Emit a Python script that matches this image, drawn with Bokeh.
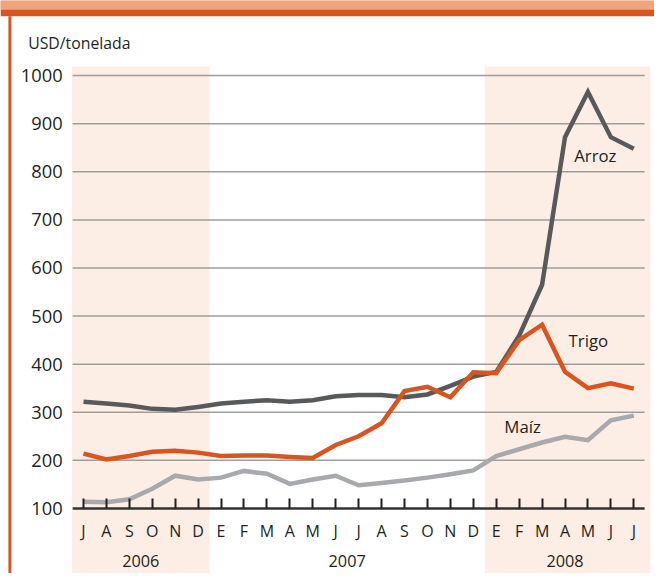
from bokeh.plotting import figure
from bokeh.models import LinearAxis, FixedTicker, Label, Range1d, BoxAnnotation
from bokeh.embed import file_html
from bokeh.resources import INLINE

# ---- data ----
months = ["J", "A", "S", "O", "N", "D",
          "E", "F", "M", "A", "M", "J", "J", "A", "S", "O", "N", "D",
          "E", "F", "M", "A", "M", "J", "J"]
years = ["2006", "2007", "2008"]
year_pos = [2.5, 11.5, 21.0]
arroz = [322, 318, 314, 307, 305, 311, 318, 322, 325, 322, 325, 333, 336,
         336, 331, 337, 355, 374, 384, 459, 565, 872, 966, 872, 848]
trigo = [214, 202, 209, 218, 220, 216, 209, 210, 210, 207, 205, 232, 250,
         277, 344, 353, 331, 383, 381, 450, 482, 384, 350, 360, 349]
maiz = [114, 113, 119, 141, 168, 160, 164, 178, 172, 151, 160, 168, 148,
        153, 158, 164, 171, 179, 209, 223, 237, 249, 242, 283, 293]
y_ticks = [100, 200, 300, 400, 500, 600, 700, 800, 900, 1000]
band_start = [-0.5, 17.5]
band_end = [5.5, 24.72]
idx = list(range(len(months)))

# ---- geometry (reference layout pixels, scaled to the figure) ----
W, H = 654, 573
RW, RH = 662.0, 581.0
S = W / RW


def xd(px):
    return (px - 84.0) / 23.21


def yd(py):
    return 100 + (515.0 - py) / 0.4876


FONT = "Open Sans"
TXT = "#231F20"
ORANGE = "#D9541E"

p = figure(width=W, height=H,
           x_range=Range1d(xd(0), xd(RW)), y_range=Range1d(yd(RH), yd(0)),
           x_axis_location=None, y_axis_location=None,
           toolbar_location=None, output_backend="svg",
           min_border=0, outline_line_color=None,
           background_fill_color="white", border_fill_color="white")
p.grid.visible = False

# frame decorations
p.add_layout(BoxAnnotation(bottom=yd(16), fill_color=ORANGE, fill_alpha=1, line_color=None))
p.add_layout(BoxAnnotation(bottom=yd(9.5), fill_color="#EEA47C", fill_alpha=1, line_color=None))
p.add_layout(BoxAnnotation(left=xd(8), right=xd(11), top=yd(16), fill_color=ORANGE,
                           fill_alpha=1, line_color=None))

# shaded year bands
p.quad(left=band_start, right=band_end, top=yd(67), bottom=yd(RH + 20),
       fill_color="#FCEEE4", line_color=None)

# gridlines
grid_y = y_ticks[1:]
p.segment(x0=[xd(73)] * len(grid_y), y0=grid_y, x1=[xd(652)] * len(grid_y), y1=grid_y,
          line_color="#9D9D9D", line_width=1.5)
# axis line
p.segment(x0=[xd(73)], y0=[y_ticks[0]], x1=[xd(652)], y1=[y_ticks[0]],
          line_color="#333333", line_width=2.5)

# series
p.line(idx, maiz, line_color="#A7A9AC", line_width=4.5, line_join="miter")
p.line(idx, arroz, line_color="#58595B", line_width=4.5, line_join="miter")
p.line(idx, trigo, line_color=ORANGE, line_width=4.5, line_join="miter")

# y axis
yax = LinearAxis(fixed_location=xd(73), ticker=FixedTicker(ticks=y_ticks),
                 axis_line_color=None, major_tick_in=0, major_tick_out=0,
                 minor_tick_in=0, minor_tick_out=0,
                 major_label_standoff=10,
                 major_label_text_font=FONT, major_label_text_font_size="18.3px",
                 major_label_text_color=TXT)
p.add_layout(yax, "left")

# x axis (months)
xax = LinearAxis(fixed_location=y_ticks[0], ticker=FixedTicker(ticks=idx),
                 major_label_overrides={i: m for i, m in zip(idx, months)},
                 axis_line_color=None, major_tick_in=10, major_tick_out=0,
                 minor_tick_in=0, minor_tick_out=0,
                 major_tick_line_width=2, major_tick_line_color=TXT,
                 major_label_standoff=12,
                 major_label_text_font=FONT, major_label_text_font_size="16px",
                 major_label_text_color=TXT)
p.add_layout(xax, "below")

# x axis (years)
yrax = LinearAxis(fixed_location=y_ticks[0], ticker=FixedTicker(ticks=year_pos),
                  major_label_overrides={k: v for k, v in zip(year_pos, years)},
                  axis_line_color=None, major_tick_in=0, major_tick_out=0,
                  minor_tick_in=0, minor_tick_out=0,
                  major_label_standoff=47,
                  major_label_text_font=FONT, major_label_text_font_size="16.3px",
                  major_label_text_color=TXT)
p.add_layout(yrax, "below")

# texts
p.add_layout(Label(x=xd(28), y=yd(43), text="USD/tonelada", text_font=FONT,
                   text_font_size="15.8px", text_color=TXT, text_baseline="middle"))
p.add_layout(Label(x=xd(580.7), y=yd(157.5), text="Arroz", text_font=FONT,
                   text_font_size="16.8px", text_color=TXT, text_baseline="middle"))
p.add_layout(Label(x=xd(575), y=yd(344.5), text="Trigo", text_font=FONT,
                   text_font_size="16.8px", text_color=TXT, text_baseline="middle"))
p.add_layout(Label(x=xd(510), y=yd(432), text="Maíz", text_font=FONT,
                   text_font_size="16.8px", text_color=TXT, text_baseline="middle"))

open("out.html", "w").write(file_html(p, INLINE))
